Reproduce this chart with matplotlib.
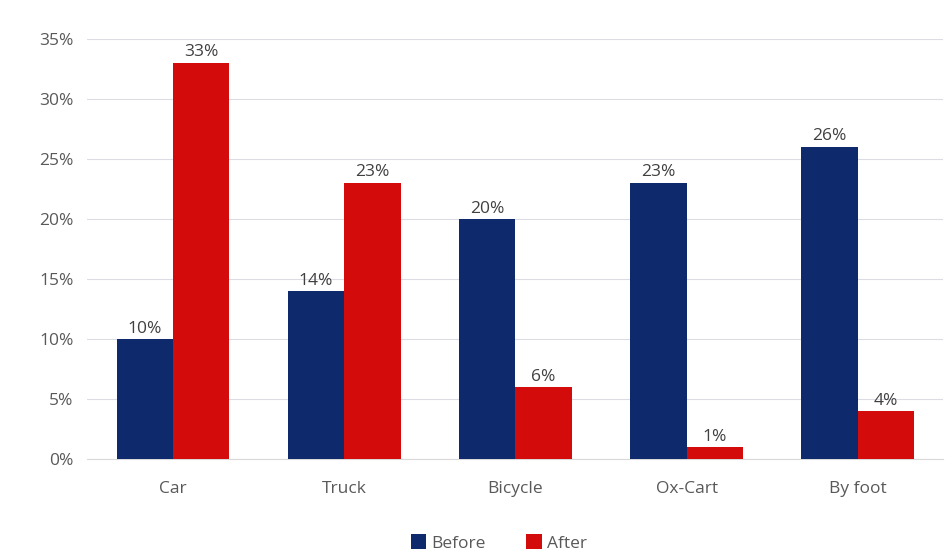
import matplotlib.pyplot as plt
import numpy as np

plt.rcParams['font.family'] = ['Open Sans', 'DejaVu Sans']

categories = ['Car', 'Truck', 'Bicycle', 'Ox-Cart', 'By foot']
before = [10, 14, 20, 23, 26]
after = [33, 23, 6, 1, 4]
yticks = [0, 5, 10, 15, 20, 25, 30, 35]

c_before = '#0F2A6C'
c_after = '#D30B0B'
txt = '#595959'

fig = plt.figure(figsize=(9.5, 5.55), dpi=100)
ax = fig.add_axes([0.092, 0.173, 0.901, 0.757])

x = np.arange(len(categories))
w = 0.33
b1 = ax.bar(x - w / 2, before, w, color=c_before, label='Before', zorder=3)
b2 = ax.bar(x + w / 2, after, w, color=c_after, label='After', zorder=3)

for bars in (b1, b2):
    for r in bars:
        ax.text(r.get_x() + r.get_width() / 2, r.get_height() + 0.2,
                '%d%%' % r.get_height(), ha='center', va='bottom',
                fontsize=12.5, color='#404040')

ax.set_xlim(-0.5, len(categories) - 0.5)
ax.set_ylim(0, 35)
ax.set_yticks(yticks)
ax.set_yticklabels(['%d%%' % v for v in yticks])
ax.set_xticks(x)
ax.set_xticklabels(categories)
ax.tick_params(axis='both', length=0, labelsize=12.5, colors=txt)
ax.tick_params(axis='y', pad=10)
ax.tick_params(axis='x', pad=16)
ax.grid(axis='y', color='#DCDCE4', linewidth=0.8, zorder=0)
for s in ['top', 'right', 'left']:
    ax.spines[s].set_visible(False)
ax.spines['bottom'].set_color('#D9D9D9')

fig.legend(handles=[b1, b2], loc='lower center', ncol=2, frameon=False,
           bbox_to_anchor=(0.525, -0.022), fontsize=12.5, handlelength=0.9,
           handleheight=0.9, handletextpad=0.3, columnspacing=2.3,
           labelcolor=txt)

fig.savefig('out.png', dpi=100)
